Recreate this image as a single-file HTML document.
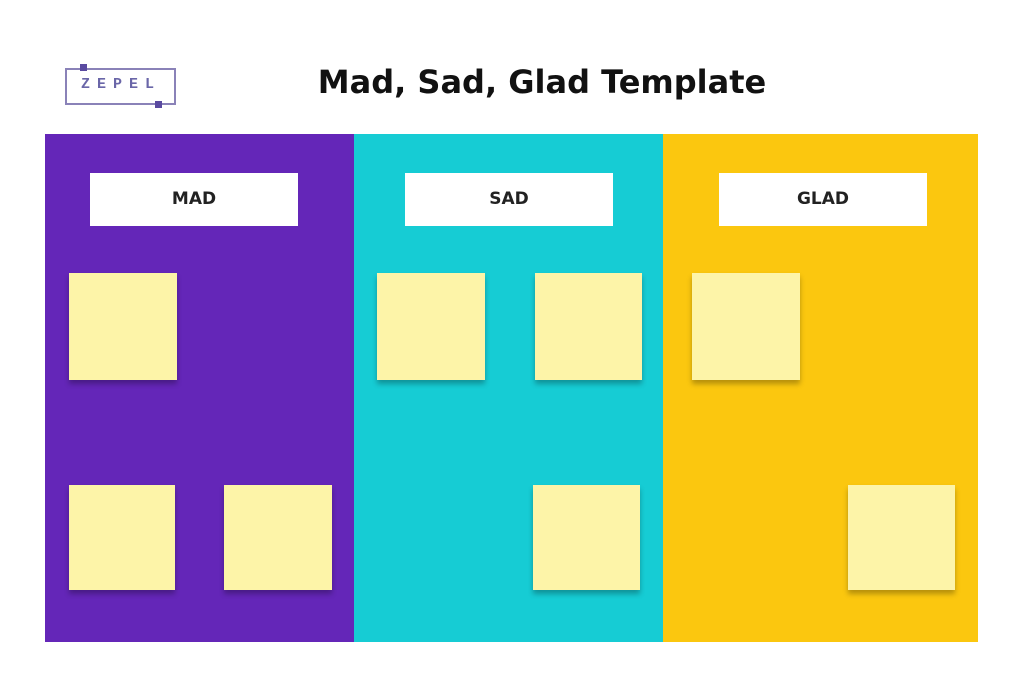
<!DOCTYPE html>
<html><head><meta charset="utf-8"><style>
html,body{margin:0;padding:0;background:#fff;width:1024px;height:683px;overflow:hidden;font-family:"Liberation Sans",sans-serif;position:relative}
.a{position:absolute}
.col{position:absolute;top:134px;height:508px}
.lbl{position:absolute;top:173px;height:53px;width:208px;background:#fff;font-weight:bold;font-size:17px;color:#222;text-align:center;line-height:53px;font-family:"DejaVu Sans",sans-serif}
.n{position:absolute;background:#fdf4a8;box-shadow:0 4px 5px rgba(0,0,0,0.28)}
</style></head><body>
<div class="a" style="left:65px;top:68px;width:111px;height:37px;border:2px solid #8a82b8;box-sizing:border-box"></div>
<div class="a" style="left:80px;top:64px;width:7px;height:7px;background:#5a4aa0"></div>
<div class="a" style="left:155px;top:101px;width:7px;height:7px;background:#5a4aa0"></div>
<div class="a" style="left:68px;top:76px;width:106px;text-align:center;font-size:15px;font-weight:bold;color:#6a66a8;letter-spacing:7px;font-family:'Liberation Mono',monospace;">ZEPEL</div>
<div class="a" style="left:242px;top:63px;width:600px;text-align:center;font-size:32px;font-weight:bold;color:#111;font-family:'DejaVu Sans',sans-serif">Mad, Sad, Glad Template</div>
<div class="col" style="left:45px;width:309px;background:#6426b8"></div>
<div class="col" style="left:354px;width:309px;background:#16ccd4"></div>
<div class="col" style="left:663px;width:315px;background:#fbc70f"></div>
<div class="lbl" style="left:90px">MAD</div>
<div class="lbl" style="left:405px">SAD</div>
<div class="lbl" style="left:719px">GLAD</div>
<div class="n" style="left:69px;top:273px;width:108px;height:107px"></div>
<div class="n" style="left:69px;top:485px;width:106px;height:105px"></div>
<div class="n" style="left:224px;top:485px;width:108px;height:105px"></div>
<div class="n" style="left:377px;top:273px;width:108px;height:107px"></div>
<div class="n" style="left:535px;top:273px;width:107px;height:107px"></div>
<div class="n" style="left:533px;top:485px;width:107px;height:105px"></div>
<div class="n" style="left:692px;top:273px;width:108px;height:107px"></div>
<div class="n" style="left:848px;top:485px;width:107px;height:105px"></div>
</body></html>
